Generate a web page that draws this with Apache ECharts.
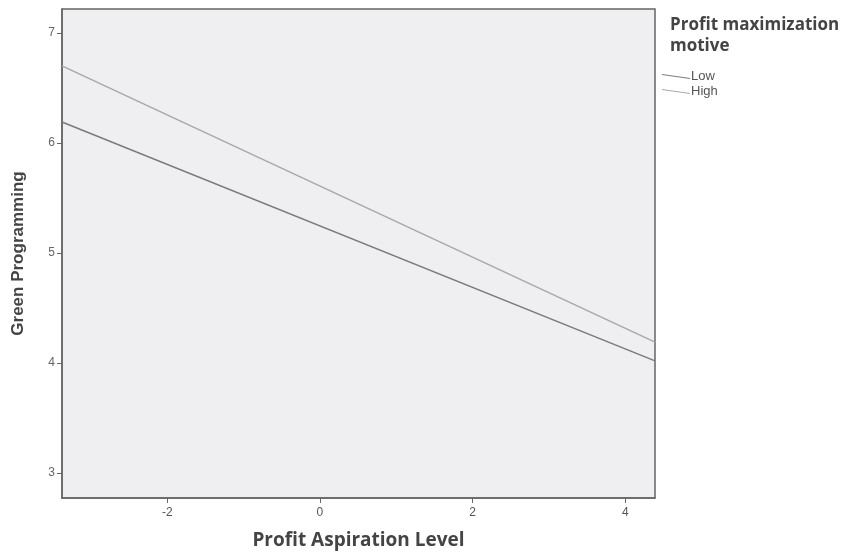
<!DOCTYPE html>
<html><head><meta charset="utf-8">
<script src="https://cdn.jsdelivr.net/npm/echarts@6/dist/echarts.min.js"></script>
<style>html,body{margin:0;padding:0;background:#fff}#c{width:842px;height:555px}</style>
</head><body><div id="c"></div>
<script>
const xRange = [-3.38, 4.39];
const lowValues = [6.19, 4.02];
const highValues = [6.70, 4.19];
const seriesNames = ['Low', 'High'];
const xTicks = [-2, 0, 2, 4];
const yTicks = [3, 4, 5, 6, 7];

const chart = echarts.init(document.getElementById('c'));
const lineIcon = 'path://M0,0 L28,4 L28,5 L0,1 Z';
chart.setOption({
  animation: false,
  backgroundColor: '#ffffff',
  title: {
    text: 'Profit maximization\nmotive',
    left: 665, top: 10,
    textStyle: {fontFamily: 'Open Sans', fontWeight: 'bold', fontSize: 17, color: '#444', lineHeight: 21}
  },
  legend: {
    data: seriesNames,
    orient: 'vertical',
    left: 657, top: 65,
    itemWidth: 28, itemHeight: 5, itemGap: 2,
    icon: lineIcon,
    textStyle: {fontFamily: 'Liberation Sans', fontSize: 13, color: '#555', padding: [0,0,0,-4]}
  },
  grid: {left: 62, right: 187, top: 9, bottom: 55, show: true, backgroundColor: '#efeff1', borderColor: '#666', borderWidth: 1.5},
  xAxis: {
    type: 'value', min: xRange[0], max: xRange[1],
    name: 'Profit Aspiration Level', nameLocation: 'middle', nameGap: 33,
    nameTextStyle: {fontFamily: 'Open Sans', fontWeight: 'bold', fontSize: 19, color: '#444'},
    axisLine: {onZero: false, lineStyle: {color: '#666', width: 1.5}},
    axisTick: {length: 5, lineStyle: {color: '#666'}, customValues: xTicks},
    axisLabel: {fontFamily: 'Liberation Sans', fontSize: 12, color: '#555', customValues: xTicks, margin: 9},
    splitLine: {show: false}
  },
  yAxis: {
    type: 'value', min: 2.774, max: 7.217,
    name: 'Green Programming', nameLocation: 'middle', nameGap: 35, nameRotate: 90,
    nameTextStyle: {fontFamily: 'Liberation Sans Narrow, Arial Narrow, Liberation Sans', fontWeight: 'bold', fontSize: 17, color: '#444'},
    axisLine: {onZero: false, lineStyle: {color: '#666', width: 1.5}},
    axisTick: {length: 5, lineStyle: {color: '#666'}, customValues: yTicks},
    axisLabel: {fontFamily: 'Liberation Sans', fontSize: 12, color: '#666', customValues: yTicks, margin: 7},
    splitLine: {show: false}
  },
  series: [
    {name: 'Low', type: 'line', data: [[xRange[0], lowValues[0]], [xRange[1], lowValues[1]]], symbol: 'none', lineStyle: {color: '#7a7a7a', width: 1.5}, itemStyle: {color: '#7a7a7a'}},
    {name: 'High', type: 'line', data: [[xRange[0], highValues[0]], [xRange[1], highValues[1]]], symbol: 'none', lineStyle: {color: '#a8a8a8', width: 1.5}, itemStyle: {color: '#a8a8a8'}}
  ]
});
</script></body></html>
